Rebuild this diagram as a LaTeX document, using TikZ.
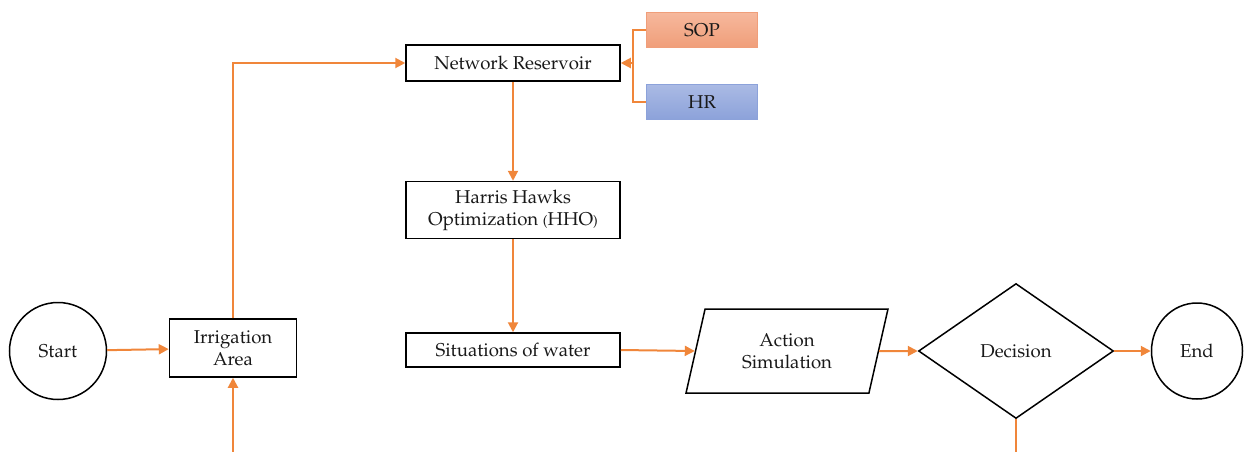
\documentclass[tikz,border=0pt]{standalone}
\usepackage[T1]{fontenc}
\usepackage{mathpazo}
\usetikzlibrary{arrows.meta, shapes.geometric, positioning}

\definecolor{flow}{RGB}{240,134,58}
\definecolor{soptop}{RGB}{246,184,156}
\definecolor{sopbot}{RGB}{240,158,122}
\definecolor{hrtop}{RGB}{170,186,228}
\definecolor{hrbot}{RGB}{140,162,218}

\begin{document}
\begin{tikzpicture}[
	x=1pt, y=-1pt,
	every node/.style={font=\fontsize{18.6}{22}\selectfont, text=black!90},
	block/.style={
		rectangle, draw, line width=1.5pt,
		minimum width=214pt, minimum height=36pt, align=center, inner sep=0pt
	},
	tag/.style={
		rectangle, draw, line width=0.8pt,
		minimum width=111pt, minimum height=35pt, inner sep=0pt
	},
	arrow/.style={-{Triangle[length=10pt, width=10pt]}, flow, line width=2pt},
	link/.style={flow, line width=2pt}
	]
	\useasboundingbox (0,0) rectangle (1245,451);
	\clip (0,0) rectangle (1245,451);
	
	% Nodes
	\node[circle, draw, line width=1.5pt, minimum size=97pt] (start) at (58,351) {Start};
	\node[block, minimum width=127pt, minimum height=58pt] (irrigation) at (233,348) {Irrigation\\Area};
	\node[block] (reservoir) at (513,63) {Network Reservoir};
	\node[tag, draw=sopbot, top color=soptop, bottom color=sopbot] (sop) at (702,30) {SOP};
	\node[tag, draw=hrbot, top color=hrtop, bottom color=hrbot] (hr) at (702,102) {HR};
	\node[block, minimum height=57pt] (hho) at (513,210) {Harris Hawks\\Optimization {\fontsize{14}{16}\selectfont(}HHO{\fontsize{14}{16}\selectfont)}};
	\node[block, minimum height=34pt] (water) at (513,350) {Situations of water};
	\node[trapezium, draw, line width=1.5pt, trapezium left angle=75, trapezium right angle=105,
		trapezium stretches=true, minimum width=202pt, minimum height=84pt, align=center] (action) at (787,351) {Action\\Simulation};
	\node[diamond, draw, line width=1.5pt, minimum width=195pt, minimum height=135pt, inner sep=0pt] (decision) at (1016,351) {Decision};
	\node[ellipse, draw, line width=1.5pt, minimum width=91pt, minimum height=96pt] (end) at (1197,351) {End};
	\coordinate (join) at (633,63);
	
	% Arrows
	\draw[arrow] (start) -- (irrigation);
	\draw[arrow] (irrigation.north) |- (reservoir.west);
	\draw[link] (sop.west) -| (join) |- (hr.west);
	\draw[arrow] (join) -- (reservoir.east);
	\draw[arrow] (reservoir) -- (hho);
	\draw[arrow] (hho) -- (water);
	\draw[arrow] (water.east) -- (action.west);
	\draw[arrow] (action.east) -- (decision.west);
	\draw[arrow] (decision.east) -- (end.west);
	\draw[arrow] (decision.south) -- ++(0,36) -| (irrigation.south);
	
\end{tikzpicture}
\end{document}
